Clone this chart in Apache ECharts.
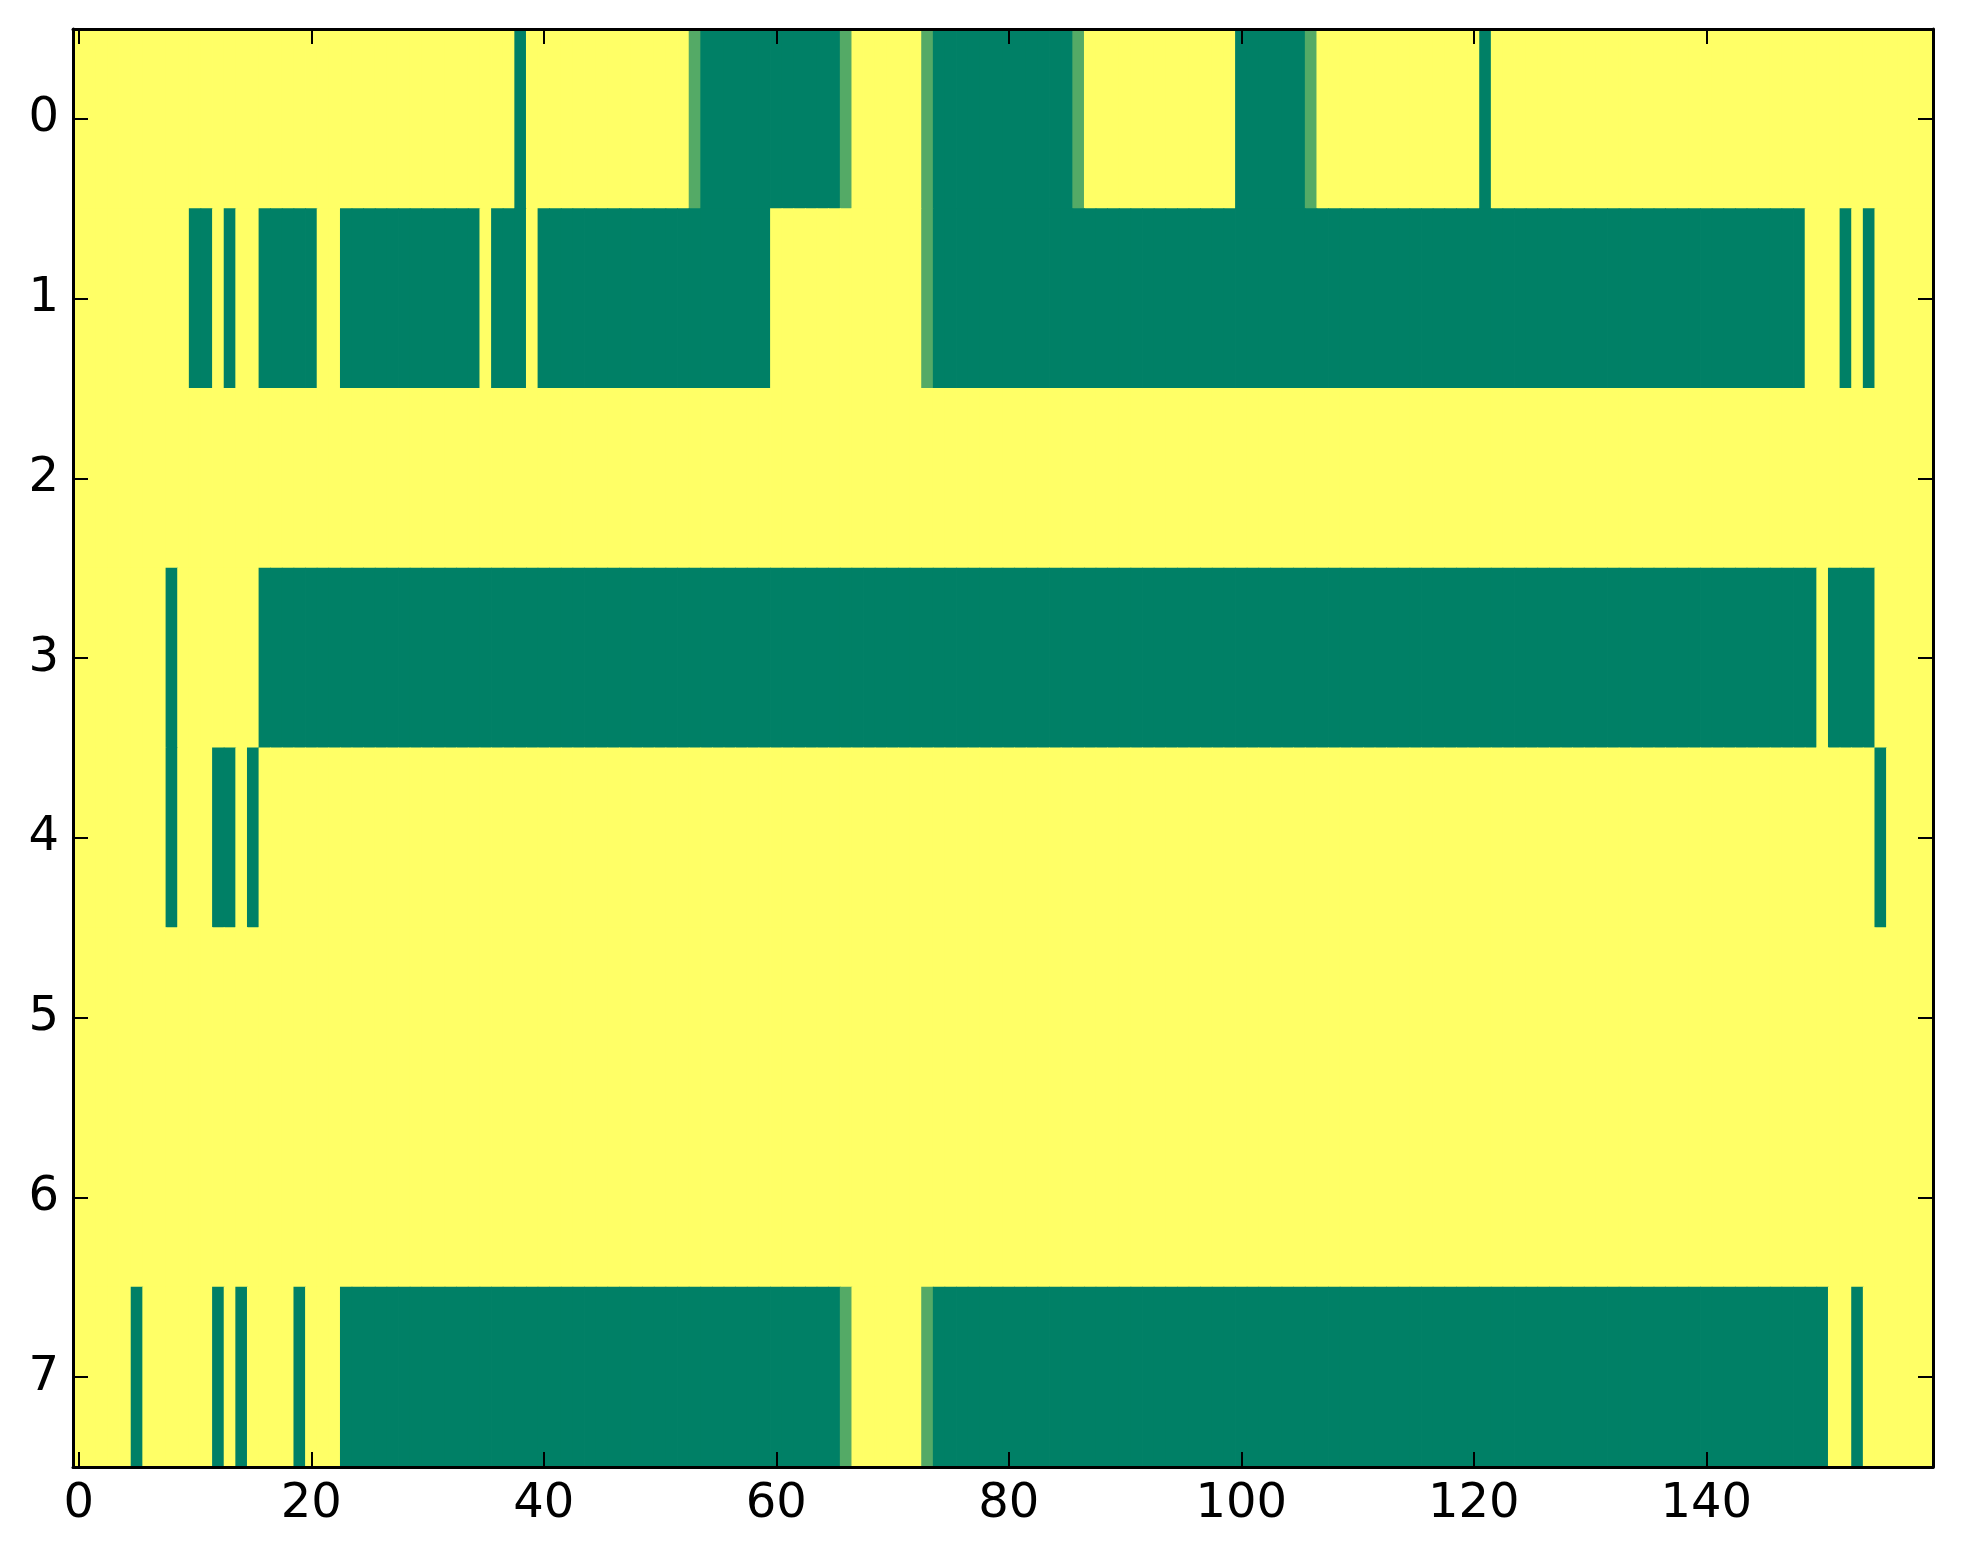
<!DOCTYPE html>
<html>
<head>
<meta charset="utf-8">
<script src="https://cdn.jsdelivr.net/npm/echarts@6/dist/echarts.min.js"></script>
<style>
html, body { margin: 0; padding: 0; background: #fff; }
#main { width: 1963px; height: 1564px; }
</style>
</head>
<body>
<div id="main"></div>
<script>
var nCols = 160;
var rowNames = ['0', '1', '2', '3', '4', '5', '6', '7'];
var xTickStep = 20;

// cells are 1 (yellow) unless listed: runs [from, to] are 0 (dark green), mid cells are ~0.33
var row0Green = [[38, 38], [54, 65], [74, 85], [100, 105], [121, 121]];
var row0Mid = [53, 66, 73, 86, 106];
var row1Green = [[10, 11], [13, 13], [16, 20], [23, 34], [36, 38], [40, 59], [74, 148], [152, 152], [154, 154]];
var row1Mid = [73];
var row2Green = [];
var row3Green = [[8, 8], [16, 149], [151, 154]];
var row4Green = [[8, 8], [12, 13], [15, 15], [155, 155]];
var row5Green = [];
var row6Green = [];
var row7Green = [[5, 5], [12, 12], [14, 14], [19, 19], [23, 65], [74, 150], [153, 153]];
var row7Mid = [66, 73];
var midValue = 0.33;

var greenRows = [row0Green, row1Green, row2Green, row3Green, row4Green, row5Green, row6Green, row7Green];
var midRows = [row0Mid, row1Mid, [], [], [], [], [], row7Mid];

var cols = [];
for (var c = 0; c < nCols; c++) cols.push(String(c));

var cells = [];
for (var r = 0; r < rowNames.length; r++) {
    var vals = [];
    for (var c = 0; c < nCols; c++) vals.push(1);
    greenRows[r].forEach(function (run) {
        for (var k = run[0]; k <= run[1]; k++) vals[k] = 0;
    });
    midRows[r].forEach(function (k) { vals[k] = midValue; });
    for (var c = 0; c < nCols; c++) cells.push([c, r, vals[c]]);
}

var showTick = function (index) { return index % xTickStep === 0; };
var font = 'DejaVu Sans';

function axisLine() {
    return { show: true, lineStyle: { color: '#000', width: 3 } };
}
function axisTick(interval) {
    var t = { show: true, inside: true, length: 15, alignWithLabel: true, lineStyle: { color: '#000', width: 2 } };
    if (interval) t.interval = interval;
    return t;
}

// one rect per cell, widened a touch so neighbouring cells don't leave seams
function renderCell(params, api) {
    var p = api.coord([api.value(0), api.value(1)]);
    var s = api.size([1, 1]);
    return {
        type: 'rect',
        shape: { x: p[0] - s[0] / 2 - 0.4, y: p[1] - s[1] / 2 - 0.4, width: s[0] + 0.8, height: s[1] + 0.8 },
        style: { fill: api.visual('color') },
        silent: true
    };
}

var myChart = echarts.init(document.getElementById('main'));
myChart.setOption({
    animation: false,
    backgroundColor: '#fff',
    grid: { left: 73, right: 30, top: 29, bottom: 97 },
    visualMap: {
        show: false,
        min: 0,
        max: 1,
        dimension: 2,
        seriesIndex: 0,
        inRange: { color: ['#008066', '#ffff66'] }
    },
    xAxis: [
        {
            type: 'category',
            data: cols,
            position: 'bottom',
            zlevel: 1,
            axisLine: axisLine(),
            axisTick: axisTick(showTick),
            axisLabel: { show: true, interval: showTick, color: '#000', fontSize: 48, fontFamily: font, margin: 14 },
            splitLine: { show: false }
        },
        {
            type: 'category',
            data: cols,
            position: 'top',
            zlevel: 1,
            axisLine: axisLine(),
            axisTick: axisTick(showTick),
            axisLabel: { show: false },
            splitLine: { show: false }
        }
    ],
    yAxis: [
        {
            type: 'category',
            data: rowNames,
            inverse: true,
            position: 'left',
            zlevel: 1,
            axisLine: axisLine(),
            axisTick: axisTick(),
            axisLabel: { show: true, color: '#000', fontSize: 48, fontFamily: font, margin: 14 },
            splitLine: { show: false }
        },
        {
            type: 'category',
            data: rowNames,
            inverse: true,
            position: 'right',
            zlevel: 1,
            axisLine: axisLine(),
            axisTick: axisTick(),
            axisLabel: { show: false },
            splitLine: { show: false }
        }
    ],
    series: [{
        type: 'custom',
        xAxisIndex: 0,
        yAxisIndex: 0,
        renderItem: renderCell,
        encode: { x: 0, y: 1 },
        data: cells
    }]
});
</script>
</body>
</html>
